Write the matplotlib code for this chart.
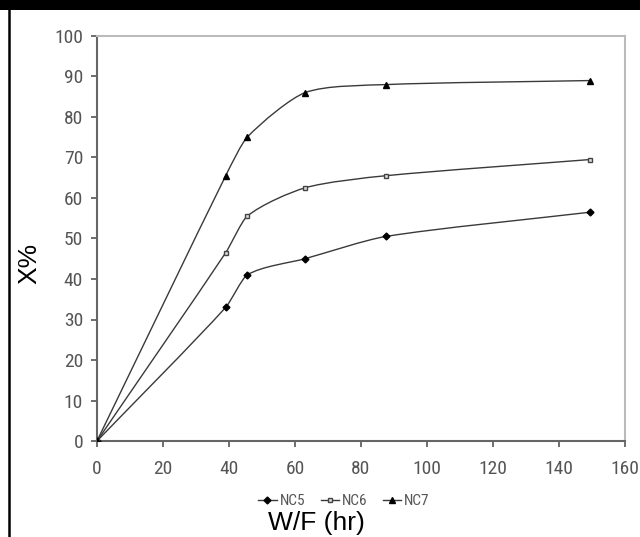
import matplotlib
matplotlib.use("Agg")
import matplotlib.pyplot as plt
import numpy as np
from matplotlib.path import Path
from matplotlib.patches import PathPatch, Rectangle
from matplotlib.lines import Line2D

# W/F (hr) and conversion X%
wf = [0, 39, 45.5, 63, 87.5, 149.5]
nc5 = [0, 33, 41, 45, 50.5, 56.5]
nc6 = [0, 46.5, 55.5, 62.5, 65.5, 69.5]
nc7 = [0, 65.5, 75, 86, 88, 89]
series_names = ["NC5", "NC6", "NC7"]

NARROW = ["Liberation Sans Narrow", "Roboto Condensed", "Archivo Narrow", "Barlow Condensed", "DejaVu Sans"]
TICK_GREY = "#555555"
LINE_GREY = "#3a3a3a"
SMOOTH = 0.75  # handle scale, 1.0 = full Hermite smoothing


def smooth_path(x, y):
    # smoothed line like the spreadsheet one: Hermite segments in x as cubic Bezier
    x = np.asarray(x, float)
    y = np.asarray(y, float)
    n = len(x)
    m = np.empty(n)
    m[0] = (y[1] - y[0]) / (x[1] - x[0])
    m[-1] = (y[-1] - y[-2]) / (x[-1] - x[-2])
    m[1:-1] = (y[2:] - y[:-2]) / (x[2:] - x[:-2])
    verts = [(x[0], y[0])]
    codes = [Path.MOVETO]
    for i in range(n - 1):
        dx = x[i + 1] - x[i]
        h = SMOOTH * dx / 3
        verts += [(x[i] + h, y[i] + m[i] * h),
                  (x[i + 1] - h, y[i + 1] - m[i + 1] * h),
                  (x[i + 1], y[i + 1])]
        codes += [Path.CURVE4] * 3
    return Path(verts, codes)


fig = plt.figure(figsize=(6.4, 5.37), dpi=100)
ax = fig.add_axes([97 / 640, 1 - 441 / 537, 528 / 640, 405 / 537])

styles = [
    dict(marker="D", markersize=3.5, markerfacecolor="black", markeredgecolor="black"),
    dict(marker="s", markersize=3.5, markerfacecolor="#dddddd", markeredgecolor="#444444"),
    dict(marker="^", markersize=4.5, markerfacecolor="black", markeredgecolor="black"),
]

handles = []
for yv, name, st in zip([nc5, nc6, nc7], series_names, styles):
    ax.add_patch(PathPatch(smooth_path(wf, yv), facecolor="none", edgecolor=LINE_GREY,
                           linewidth=1.0, zorder=3))
    ax.plot(wf, yv, linestyle="none", zorder=4, **st)
    handles.append(Line2D([], [], color=LINE_GREY, linewidth=1.0, label=name, **st))

ax.set_xlim(0, 160)
ax.set_ylim(0, 100)
ax.set_xticks(np.arange(0, 161, 20))
ax.set_yticks(np.arange(0, 101, 10))

for side in ["left", "bottom"]:
    ax.spines[side].set_color("#666666")
    ax.spines[side].set_linewidth(1.5)
for side in ["top", "right"]:
    ax.spines[side].set_color("#bbbbbb")
    ax.spines[side].set_linewidth(1.5)

ax.tick_params(axis="both", direction="out", length=4, width=1.2, color="#555555",
               labelcolor=TICK_GREY, labelsize=14)
ax.tick_params(axis="x", pad=10)
ax.tick_params(axis="y", pad=6)
for lab in ax.get_xticklabels() + ax.get_yticklabels():
    lab.set_family(NARROW)

leg = fig.legend(handles=handles, loc="center", bbox_to_anchor=(344 / 640, 1 - 501 / 537),
                 ncol=3, frameon=False, handlelength=1.2, handletextpad=0.2, columnspacing=1.0,
                 prop=dict(family=NARROW, size=11))
for t in leg.get_texts():
    t.set_color(TICK_GREY)

fig.text(29 / 640, 1 - 263 / 537, "X%", rotation=90, ha="center", va="center",
         fontsize=19, family="Liberation Sans")
fig.text(316 / 640, 7 / 537, "W/F (hr)", ha="center", va="baseline",
         fontsize=19, family="Liberation Sans")

# outer frame of the scanned figure
fig.patches.append(Rectangle((0, 1 - 10 / 537), 1, 10 / 537, transform=fig.transFigure,
                             facecolor="black", edgecolor="none"))
fig.add_artist(Line2D([8.5 / 640, 8.5 / 640], [0, 1], transform=fig.transFigure,
                      color="black", linewidth=1.8))

fig.savefig("out.png", dpi=100)
